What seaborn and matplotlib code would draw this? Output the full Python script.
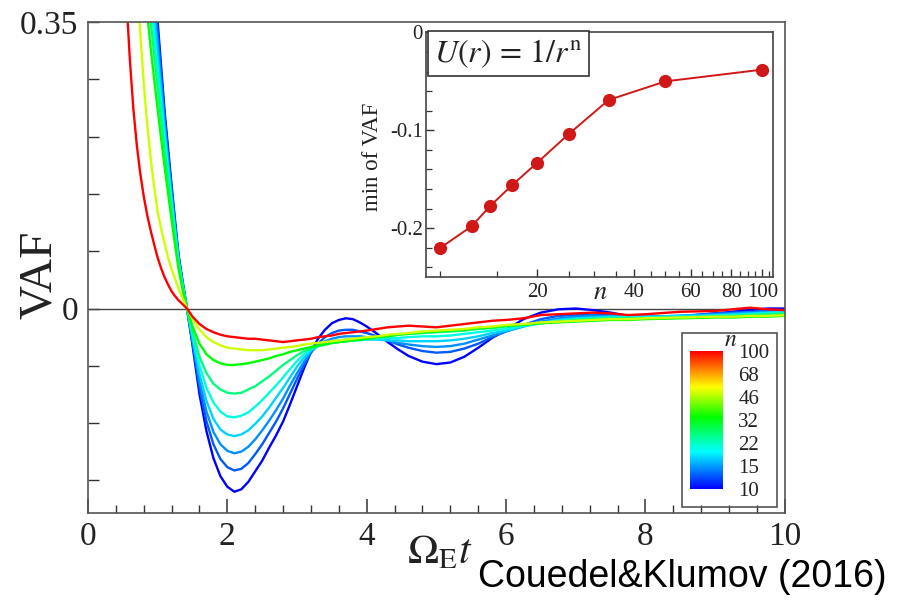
import numpy as np
import pandas as pd
import matplotlib
matplotlib.use('Agg')
import matplotlib.pyplot as plt
import seaborn as sns
from matplotlib.colors import LinearSegmentedColormap, LogNorm
from matplotlib.cm import ScalarMappable
from matplotlib.patches import Rectangle
from matplotlib.ticker import NullFormatter

sns.set_theme(style='white')
plt.rcParams['font.family'] = ['Liberation Serif', 'DejaVu Serif']
plt.rcParams['mathtext.fontset'] = 'stix'

# time axis (Omega_E t), shared by all curves
t = [0.5, 0.55, 0.6, 0.65, 0.7, 0.75, 0.8, 0.85, 0.9, 0.95, 1.0, 1.05, 1.1, 1.15, 1.2,
     1.25, 1.3, 1.36, 1.42, 1.5, 1.6, 1.7, 1.8, 1.9, 2.0, 2.1, 2.2, 2.3, 2.4, 2.5,
     2.6, 2.7, 2.8, 2.9, 3.0, 3.1, 3.2, 3.3, 3.4, 3.5, 3.6, 3.7, 3.8, 3.9, 4.0,
     4.15, 4.3, 4.45, 4.6, 4.8, 5.0, 5.2, 5.4, 5.6, 5.8, 6.0, 6.25, 6.5, 6.75, 7.0,
     7.25, 7.5, 7.75, 8.0, 8.5, 9.0, 9.25, 9.5, 9.75, 10.0]

vaf_n10 = [0.81, 0.77, 0.73, 0.685, 0.64, 0.595, 0.55, 0.50, 0.45, 0.40, 0.35, 0.295, 0.24, 0.195, 0.15,
           0.107, 0.065, 0.032, 0.0, -0.045, -0.105, -0.150, -0.183, -0.205, -0.218, -0.224, -0.221, -0.212, -0.199, -0.186,
           -0.170, -0.155, -0.138, -0.117, -0.095, -0.073, -0.053, -0.037, -0.026, -0.018, -0.014, -0.012, -0.013, -0.017, -0.022,
           -0.031, -0.041, -0.050, -0.058, -0.065, -0.068, -0.066, -0.059, -0.048, -0.036, -0.026, -0.013, -0.005, -0.001, 0.0,
           -0.002, -0.005, -0.009, -0.011, -0.010, -0.006, -0.004, -0.002, 0.0, 0.0]
vaf_n12 = [0.79, 0.75, 0.71, 0.665, 0.62, 0.575, 0.53, 0.485, 0.44, 0.39, 0.34, 0.287, 0.235, 0.188, 0.145,
           0.103, 0.063, 0.030, 0.0, -0.042, -0.097, -0.138, -0.166, -0.184, -0.194, -0.198, -0.196, -0.189, -0.178, -0.166,
           -0.152, -0.138, -0.122, -0.104, -0.086, -0.069, -0.054, -0.043, -0.035, -0.030, -0.027, -0.026, -0.026, -0.028, -0.030,
           -0.034, -0.039, -0.044, -0.048, -0.052, -0.054, -0.053, -0.049, -0.043, -0.035, -0.028, -0.020, -0.013, -0.009, -0.008,
           -0.008, -0.008, -0.009, -0.010, -0.009, -0.006, -0.005, -0.004, -0.003, -0.002]
vaf_n14 = [0.77, 0.73, 0.69, 0.645, 0.60, 0.555, 0.51, 0.465, 0.42, 0.372, 0.325, 0.275, 0.227, 0.182, 0.14,
           0.10, 0.061, 0.029, 0.0, -0.039, -0.089, -0.126, -0.151, -0.166, -0.174, -0.177, -0.175, -0.169, -0.160, -0.149,
           -0.137, -0.124, -0.110, -0.094, -0.079, -0.065, -0.053, -0.045, -0.040, -0.037, -0.035, -0.034, -0.034, -0.034, -0.035,
           -0.037, -0.039, -0.042, -0.044, -0.046, -0.047, -0.046, -0.043, -0.038, -0.033, -0.028, -0.022, -0.016, -0.012, -0.010,
           -0.009, -0.009, -0.009, -0.010, -0.009, -0.007, -0.006, -0.005, -0.004, -0.003]
vaf_n17 = [0.75, 0.71, 0.67, 0.625, 0.58, 0.535, 0.49, 0.445, 0.40, 0.355, 0.31, 0.263, 0.218, 0.175, 0.135,
           0.097, 0.059, 0.028, 0.0, -0.036, -0.080, -0.113, -0.135, -0.148, -0.154, -0.156, -0.154, -0.149, -0.141, -0.132,
           -0.121, -0.109, -0.097, -0.084, -0.071, -0.060, -0.051, -0.046, -0.042, -0.040, -0.039, -0.038, -0.038, -0.038, -0.038,
           -0.038, -0.039, -0.039, -0.040, -0.040, -0.040, -0.039, -0.037, -0.034, -0.030, -0.027, -0.022, -0.018, -0.014, -0.012,
           -0.011, -0.010, -0.010, -0.010, -0.009, -0.008, -0.007, -0.006, -0.005, -0.004]
vaf_n20 = [0.73, 0.69, 0.65, 0.605, 0.56, 0.515, 0.47, 0.425, 0.38, 0.335, 0.29, 0.248, 0.207, 0.167, 0.128,
           0.092, 0.057, 0.027, 0.0, -0.032, -0.070, -0.097, -0.115, -0.126, -0.132, -0.133, -0.131, -0.127, -0.120, -0.112,
           -0.103, -0.094, -0.084, -0.074, -0.064, -0.056, -0.050, -0.046, -0.044, -0.042, -0.041, -0.040, -0.039, -0.039, -0.038,
           -0.037, -0.036, -0.036, -0.035, -0.034, -0.034, -0.033, -0.031, -0.029, -0.027, -0.025, -0.021, -0.018, -0.015, -0.013,
           -0.012, -0.011, -0.011, -0.011, -0.010, -0.009, -0.008, -0.007, -0.006, -0.005]
vaf_n25 = [0.71, 0.67, 0.63, 0.585, 0.54, 0.49, 0.445, 0.397, 0.35, 0.31, 0.27, 0.23, 0.192, 0.155, 0.12,
           0.086, 0.053, 0.025, 0.0, -0.028, -0.059, -0.079, -0.092, -0.099, -0.103, -0.104, -0.103, -0.099, -0.095, -0.089,
           -0.083, -0.076, -0.069, -0.063, -0.057, -0.052, -0.049, -0.046, -0.044, -0.042, -0.041, -0.040, -0.039, -0.038, -0.037,
           -0.035, -0.034, -0.032, -0.031, -0.030, -0.029, -0.028, -0.027, -0.025, -0.024, -0.022, -0.020, -0.018, -0.016, -0.014,
           -0.013, -0.012, -0.012, -0.012, -0.011, -0.010, -0.009, -0.008, -0.007, -0.006]
vaf_n33 = [0.67, 0.63, 0.59, 0.545, 0.50, 0.45, 0.405, 0.36, 0.318, 0.28, 0.243, 0.207, 0.173, 0.14, 0.108,
           0.077, 0.048, 0.022, 0.0, -0.022, -0.043, -0.056, -0.063, -0.067, -0.069, -0.069, -0.068, -0.067, -0.065, -0.063,
           -0.061, -0.058, -0.056, -0.053, -0.051, -0.049, -0.047, -0.045, -0.044, -0.042, -0.041, -0.040, -0.039, -0.038, -0.037,
           -0.035, -0.034, -0.032, -0.031, -0.029, -0.028, -0.027, -0.026, -0.024, -0.023, -0.021, -0.020, -0.018, -0.017, -0.016,
           -0.015, -0.014, -0.014, -0.013, -0.012, -0.011, -0.011, -0.010, -0.010, -0.009]
vaf_n50 = [0.71, 0.625, 0.545, 0.47, 0.40, 0.335, 0.275, 0.225, 0.183, 0.148, 0.118, 0.097, 0.079, 0.062, 0.048,
           0.036, 0.024, 0.012, 0.0, -0.012, -0.026, -0.035, -0.041, -0.045, -0.048, -0.049, -0.050, -0.051, -0.051, -0.051,
           -0.050, -0.049, -0.048, -0.047, -0.046, -0.044, -0.043, -0.042, -0.041, -0.040, -0.039, -0.038, -0.037, -0.036, -0.035,
           -0.034, -0.032, -0.031, -0.030, -0.028, -0.027, -0.026, -0.025, -0.023, -0.022, -0.020, -0.019, -0.017, -0.016, -0.015,
           -0.014, -0.013, -0.013, -0.012, -0.011, -0.010, -0.010, -0.009, -0.009, -0.008]
vaf_n100 = [0.47, 0.38, 0.305, 0.245, 0.200, 0.165, 0.137, 0.114, 0.095, 0.078, 0.062, 0.049, 0.038, 0.029, 0.021,
            0.015, 0.010, 0.005, 0.0, -0.010, -0.019, -0.025, -0.029, -0.032, -0.034, -0.035, -0.036, -0.037, -0.037, -0.038,
            -0.039, -0.040, -0.041, -0.040, -0.039, -0.038, -0.037, -0.035, -0.034, -0.033, -0.031, -0.030, -0.029, -0.028, -0.027,
            -0.025, -0.023, -0.022, -0.021, -0.022, -0.023, -0.021, -0.019, -0.017, -0.015, -0.014, -0.012, -0.008, -0.007, -0.006,
            -0.005, -0.006, -0.008, -0.007, -0.004, -0.003, -0.001, 0.001, -0.001, -0.002]

n_values = [10, 12.5, 14.3, 16.7, 20, 25, 33.3, 50, 100]
min_vaf = [-0.220, -0.198, -0.177, -0.156, -0.133, -0.104, -0.069, -0.050, -0.038]

cbar_ticks = [10, 14.7, 21.5, 31.6, 46.4, 68.1, 100]
cbar_labels = ['10', '15', '22', '32', '46', '68', '100']

curves = [vaf_n10, vaf_n12, vaf_n14, vaf_n17, vaf_n20, vaf_n25, vaf_n33, vaf_n50, vaf_n100]

df = pd.DataFrame({
    't': t * len(curves),
    'vaf': np.concatenate(curves),
    'n': np.repeat(n_values, len(t)),
})

cmap = LinearSegmentedColormap.from_list('rainbow_n', [
    (0.0, (0.0, 0.0, 1.0)), (0.27, (0.0, 1.0, 1.0)), (0.52, (0.0, 1.0, 0.0)),
    (0.74, (1.0, 1.0, 0.0)), (1.0, (1.0, 0.0, 0.0))])
norm = LogNorm(vmin=10, vmax=100)
palette = {n: cmap(norm(n)) for n in n_values}

fig = plt.figure(figsize=(8.98, 6), dpi=100)

# main panel
ax = fig.add_axes([0.098, 0.145, 0.776, 0.818])
ax.axhline(0, color='#444444', lw=1.0, zorder=1)
sns.lineplot(data=df, x='t', y='vaf', hue='n', palette=palette, hue_order=n_values,
             linewidth=1.7, legend=False, sort=False, estimator=None, ax=ax)
ax.set_xlim(0, 10)
ax.set_ylim(-0.25, 0.35)
ax.set_xlabel('')
ax.set_ylabel('')
ax.set_xticks([0, 2, 4, 6, 8, 10])
ax.set_xticks(np.arange(0, 10.01, 0.4), minor=True)
ax.set_yticks([0, 0.35])
ax.set_yticklabels(['0', '0.35'])
ax.set_yticks([-0.21, -0.14, -0.07, 0.07, 0.14, 0.21, 0.28], minor=True)
ax.tick_params(which='both', direction='in', bottom=True, left=True, top=False, right=False,
               colors='#333333', labelcolor='#222222')
ax.tick_params(axis='x', which='major', length=10, width=1.1, labelsize=24, pad=6)
ax.tick_params(axis='x', which='minor', length=6, width=1.0)
ax.tick_params(axis='y', which='both', length=8, width=1.0, labelsize=24, pad=7)
for s in ax.spines.values():
    s.set_color('#555555')
    s.set_linewidth(1.2)

fig.text(40 / 898, 1 - 275 / 600, 'VAF', rotation=90, ha='center', va='center',
         fontsize=34, color='#222222')
fig.text(440 / 898, 1 - 553 / 600, r'$\Omega_{\rm E}t$', ha='center', va='center',
         fontsize=30, color='#222222')

# inset: minimum of VAF vs n
ax2 = fig.add_axes([0.474, 0.538, 0.387, 0.408])
sns.lineplot(x=n_values, y=min_vaf, marker='o', color='#d01818', markersize=9.5,
             markeredgewidth=0, linewidth=1.4, ax=ax2)
ax2.set_xscale('log')
ax2.set_xlim(9, 108)
ax2.set_ylim(-0.25, 0)
ax2.set_xticks([20, 40, 60, 80, 100])
ax2.set_xticklabels(['20', '40', '60', '80', '100'])
ax2.set_xticks([10, 15, 25, 30, 35, 45, 50, 55, 65, 70, 75, 85, 90, 95, 105], minor=True)
ax2.xaxis.set_minor_formatter(NullFormatter())
ax2.set_yticks([0, -0.1, -0.2])
ax2.set_yticklabels(['0', '-0.1', '-0.2'])
ax2.set_yticks([-0.24, -0.22, -0.18, -0.16, -0.14, -0.12, -0.08, -0.06, -0.04, -0.02],
               minor=True)
ax2.tick_params(which='both', direction='in', bottom=True, left=True, top=False, right=False,
                colors='#333333', labelcolor='#222222', labelsize=15)
ax2.tick_params(axis='x', pad=4)
ax2.tick_params(axis='y', pad=2)
ax2.tick_params(which='major', length=6, width=1.0)
ax2.tick_params(which='minor', length=4, width=0.9)
for s in ax2.spines.values():
    s.set_color('#444444')
    s.set_linewidth(1.2)
ax2.text(0.025, 0.98, r'$U(r)\,=\,1/r^{\rm n}$', transform=ax2.transAxes, ha='left',
         va='top', fontsize=23, color='#222222',
         bbox=dict(boxstyle='square,pad=0.2', fc='white', ec='#333333', lw=1.2))
fig.text(373 / 898, 1 - 157 / 600, 'min of VAF', rotation=90, ha='center', va='center',
         fontsize=16.5, color='#222222')
fig.text(600 / 898, 1 - 293 / 600, r'$n$', ha='center', va='center', fontsize=19,
         color='#222222')

# colour bar for n
fig.add_artist(Rectangle((682 / 898, 1 - 507 / 600), 95 / 898, 174 / 600,
                         transform=fig.transFigure, fill=False, ec='#555555', lw=1.2))
cax = fig.add_axes([690 / 898, 1 - 489 / 600, 33 / 898, 138 / 600])
cb = fig.colorbar(ScalarMappable(norm=norm, cmap=cmap), cax=cax, ticks=cbar_ticks)
cb.ax.minorticks_off()
cb.ax.set_yticks(cbar_ticks)
cb.ax.set_yticklabels(cbar_labels)
cb.ax.tick_params(length=0, labelsize=15, pad=11, labelcolor='#222222')
cb.outline.set_visible(False)
fig.text(731 / 898, 1 - 341 / 600, r'$n$', ha='center', va='center', fontsize=17,
         color='#222222')

fig.text(478 / 898, 1 - 577 / 600, 'Couedel&Klumov (2016)', family='Liberation Sans',
         fontsize=27, ha='left', va='center', color='black')

fig.savefig('out.png', dpi=100)
